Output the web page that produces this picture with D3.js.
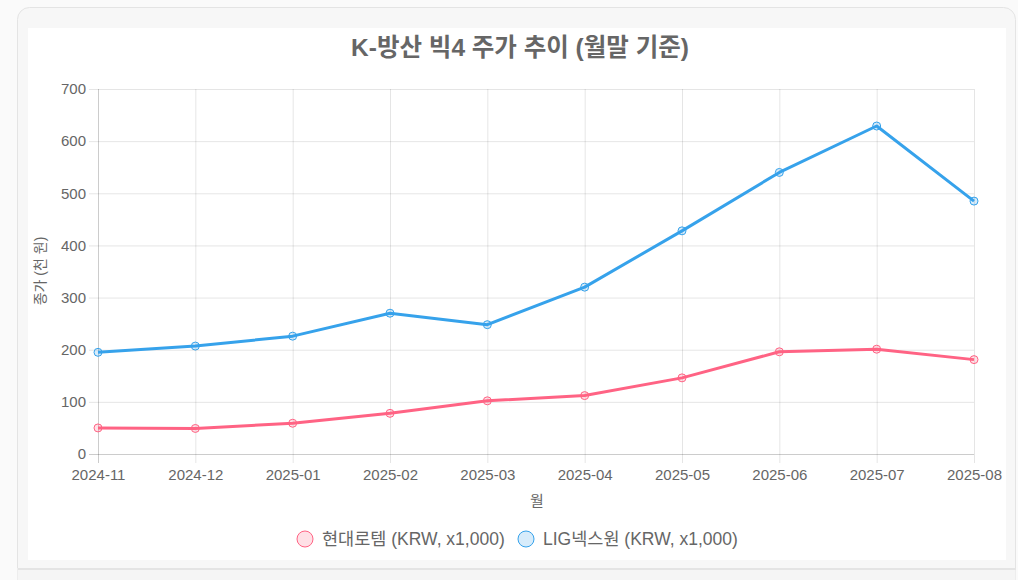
<!DOCTYPE html>
<html><head><meta charset="utf-8">
<script src="https://cdn.jsdelivr.net/npm/d3@7"></script>
<style>
html,body{margin:0;padding:0;background:#fafafa;}
svg{display:block;font-family:"Liberation Sans","Noto Sans CJK KR",Arial,sans-serif;}
</style></head>
<body>
<svg id="c" width="1018" height="580"></svg>
<script>
const months = ["2024-11","2024-12","2025-01","2025-02","2025-03","2025-04","2025-05","2025-06","2025-07","2025-08"];
const hyundaiRotem = [50, 49, 59, 78, 102, 112, 146, 196, 201, 181];
const ligNex1 = [195, 207, 226, 270, 248, 320, 428, 540, 629, 485];
const yTicks = [0,100,200,300,400,500,600,700];
const seriesNames = ["현대로템 (KRW, x1,000)", "LIG넥스원 (KRW, x1,000)"];
const seriesColors = ["rgb(255,99,132)", "rgb(54,162,235)"];
const seriesFills = ["rgba(255,99,132,0.2)", "rgba(54,162,235,0.2)"];
const title = "K-방산 빅4 주가 추이 (월말 기준)";

const svg = d3.select("#c");
// card background
svg.append("rect").attr("x",17.5).attr("y",7.5).attr("width",998).attr("height",600).attr("rx",12)
  .attr("fill","#f7f7f7").attr("stroke","#e4e4e4");
svg.append("rect").attr("x",17.5).attr("y",568).attr("width",998).attr("height",20).attr("fill","#f5f5f5");
svg.append("line").attr("x1",18).attr("x2",1016).attr("y1",569).attr("y2",569).attr("stroke","#e4e4e4").attr("stroke-width",2);
svg.append("rect").attr("x",28).attr("y",28).attr("width",978).attr("height",532).attr("fill","#fff");

const x = d3.scalePoint().domain(months).range([98, 974]);
const y = d3.scaleLinear().domain([0,700]).range([454, 89]);

svg.append("text").attr("x",520).attr("y",56).attr("text-anchor","middle")
  .attr("font-size",24.5).attr("font-weight","bold").attr("fill","#666").text(title);

// grid
const g = svg.append("g");
g.selectAll("line.h").data(yTicks).join("line")
  .attr("x1",89).attr("x2",974).attr("y1",d=>y(d)+0.5).attr("y2",d=>y(d)+0.5)
  .attr("stroke",d=>d===0?"rgba(0,0,0,0.2)":"rgba(0,0,0,0.1)");
g.selectAll("line.v").data(months).join("line")
  .attr("x1",d=>x(d)+0.5).attr("x2",d=>x(d)+0.5).attr("y1",89).attr("y2",463)
  .attr("stroke",(d,i)=>i===0?"rgba(0,0,0,0.2)":"rgba(0,0,0,0.1)");

// axes labels via d3 axes
const yAxis = svg.append("g").attr("transform","translate(98,0)")
  .call(d3.axisLeft(y).tickValues(yTicks).tickSize(0).tickPadding(12));
const xAxis = svg.append("g").attr("transform","translate(0,454)")
  .call(d3.axisBottom(x).tickSize(0).tickPadding(15));
[yAxis,xAxis].forEach(a=>{
  a.select(".domain").remove();
  a.selectAll("text").attr("font-size",15).attr("fill","#666").attr("font-family","Liberation Sans, Arial, sans-serif");
});

svg.append("text").attr("x",537).attr("y",506).attr("text-anchor","middle")
  .attr("font-size",15).attr("fill","#666").text("월");
svg.append("text").attr("transform","translate(45,271) rotate(-90)").attr("text-anchor","middle")
  .attr("font-size",14).attr("fill","#666").text("종가 (천 원)");

const data = [hyundaiRotem, ligNex1];
const line = d3.line().x((d,i)=>x(months[i])).y(d=>y(d));
data.forEach((s,k)=>{
  svg.append("path").datum(s).attr("d",line).attr("fill","none")
    .attr("stroke",seriesColors[k]).attr("stroke-width",3).attr("stroke-linejoin","round");
});
data.forEach((s,k)=>{
  svg.append("g").selectAll("circle").data(s).join("circle")
    .attr("cx",(d,i)=>x(months[i])).attr("cy",d=>y(d)).attr("r",4)
    .attr("fill",seriesFills[k]).attr("stroke",seriesColors[k]).attr("stroke-width",1);
});

// legend
const legX = [305, 526];
seriesNames.forEach((n,k)=>{
  svg.append("circle").attr("cx",legX[k]).attr("cy",539).attr("r",8)
    .attr("fill",seriesFills[k]).attr("stroke",seriesColors[k]).attr("stroke-width",1);
  svg.append("text").attr("x",legX[k]+17).attr("y",545).attr("font-size",17.5).attr("fill","#666").text(n);
});
</script>
</body></html>
